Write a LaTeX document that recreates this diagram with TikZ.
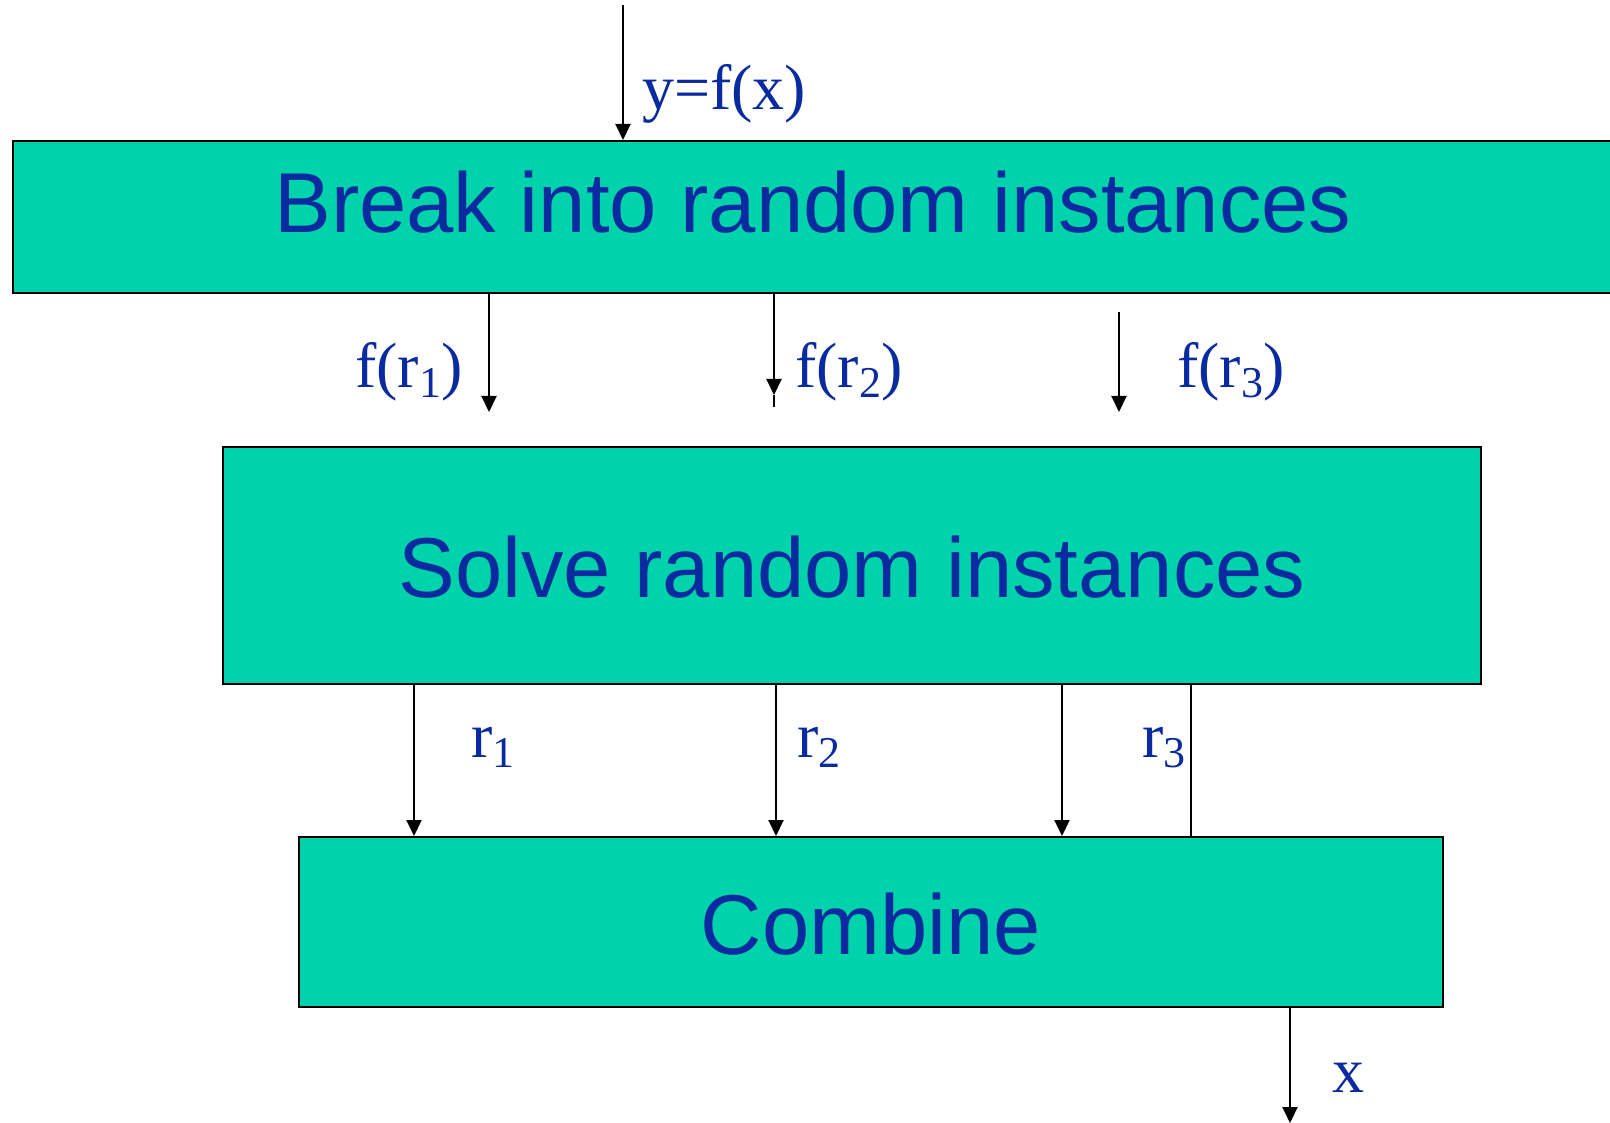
\documentclass[tikz,border=0pt]{standalone}
\usepackage{fontspec}
\setmainfont{Liberation Serif}
\newfontfamily\arialfont{Liberation Sans}
\usetikzlibrary{arrows.meta}
\newcommand\idx[1]{\raisebox{-10pt}{\fontsize{44}{44}\selectfont #1}}
\begin{document}
\begin{tikzpicture}[x=1pt,y=-1pt,>={Triangle[width=15pt,length=16pt]}]
  \definecolor{ink}{HTML}{0A2BA0}
  \definecolor{sea}{HTML}{00D2AB}
  \tikzset{stage/.style={draw=black,line width=2pt,fill=sea,inner sep=0pt,text=ink,font=\arialfont\fontsize{85}{90}\selectfont,text height=64pt,text depth=0pt},
    lbl/.style={anchor=base west,inner sep=0pt,text=ink,font=\fontsize{64}{70}\selectfont},
    flow/.style={->,line width=2pt,black}}
  \useasboundingbox (0,0) rectangle (1610,1123);
  \node[stage,minimum width=1600pt,minimum height=152pt,text height=62pt,text depth=30pt] (break) at (813,217) {Break into random instances};
  \node[stage,minimum width=1258pt,minimum height=237pt] (solve) at (852,565.5) {Solve random instances};
  \node[stage,minimum width=1144pt,minimum height=170pt] (combine) at (871,922) {Combine};
  % input
  \coordinate (src) at (623,5);
  \draw[flow] (src) -- (src |- break.north);
  \node[lbl] (fx) at (642,110) {y=f(x)};
  % random instances
  \coordinate (fr1) at (489,412);
  \coordinate (fr2) at (774,395);
  \coordinate (fr2end) at (774,407);
  \coordinate (fr3top) at (1119,312);
  \coordinate (fr3) at (1119,412);
  \draw[flow] (fr1 |- break.south) -- (fr1);
  \draw[flow] (fr2 |- break.south) -- (fr2);
  \draw[line width=2pt] (fr2) -- (fr2end);
  \draw[flow] (fr3top) -- (fr3);
  \node[lbl] (fr1lbl) at (355,388) {f(r\idx{1})};
  \node[lbl] (fr2lbl) at (795,388) {f(r\idx{2})};
  \node[lbl] (fr3lbl) at (1177,388) {f(r\idx{3})};
  % answers
  \foreach \x/\n in {414/1,776/2,1062/3}
    \coordinate (ans\n) at (\x,0);
  \foreach \n in {1,2,3}
    \draw[flow] (ans\n |- solve.south) -- (ans\n |- combine.north);
  \coordinate (side) at (1191,0);
  \draw[line width=2pt] (side |- solve.south) -- (side |- combine.north);
  \node[lbl] (r1lbl) at (471,757) {r\idx{1}};
  \node[lbl] (r2lbl) at (797,757) {r\idx{2}};
  \node[lbl] (r3lbl) at (1142,757) {r\idx{3}};
  % output
  \coordinate (out) at (1290,1123);
  \draw[flow] (out |- combine.south) -- (out);
  \node[lbl] (xlbl) at (1332,1092) {x};
\end{tikzpicture}
\end{document}
